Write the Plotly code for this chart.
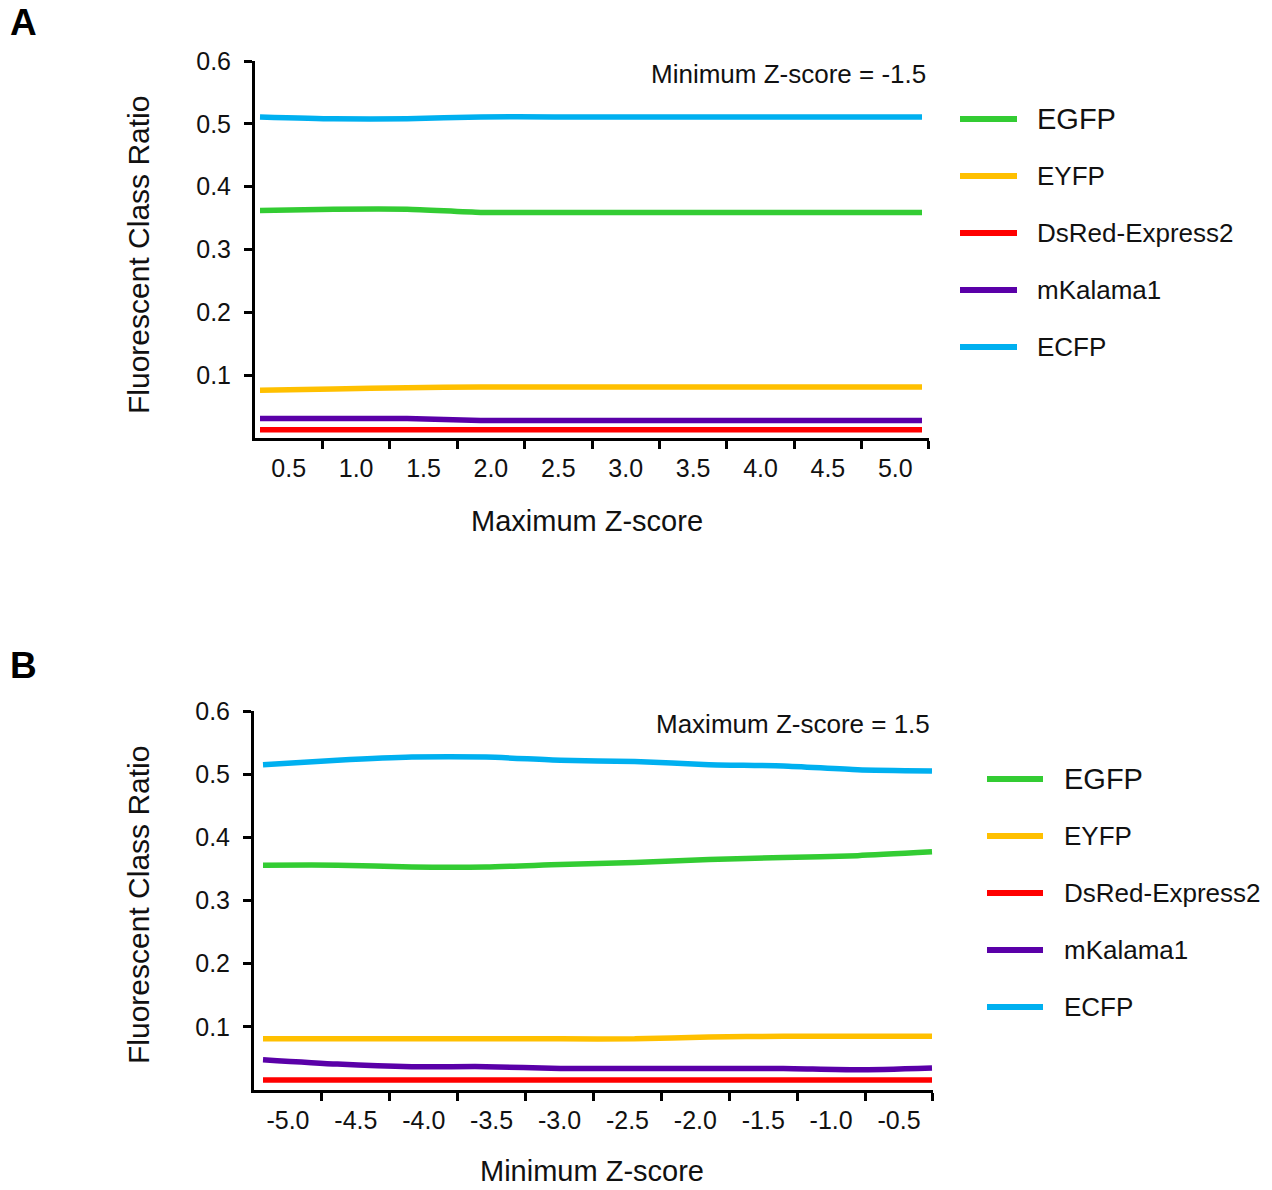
import plotly.graph_objects as go

W, H = 1272, 1190

# ---------------- data ----------------
proteins = ["EGFP", "EYFP", "DsRed-Express2", "mKalama1", "ECFP"]
colors = ["#33CC33", "#FFC000", "#FF0000", "#5A00A8", "#00B0F0"]

max_z = [0.5, 1.0, 1.5, 2.0, 2.5, 3.0, 3.5, 4.0, 4.5, 5.0]
max_z_labels = ["0.5", "1.0", "1.5", "2.0", "2.5", "3.0", "3.5", "4.0", "4.5", "5.0"]

min_z = [-5.0, -4.5, -4.0, -3.5, -3.0, -2.5, -2.0, -1.5, -1.0, -0.5]
min_z_labels = ["-5.0", "-4.5", "-4.0", "-3.5", "-3.0", "-2.5", "-2.0", "-1.5", "-1.0", "-0.5"]

y_ticks = [0.1, 0.2, 0.3, 0.4, 0.5, 0.6]

# Panel A (minimum Z-score = -1.5)
a_egfp = [0.362, 0.364, 0.364, 0.359, 0.359, 0.359, 0.359, 0.359, 0.359, 0.359]
a_eyfp = [0.076, 0.078, 0.080, 0.081, 0.081, 0.081, 0.081, 0.081, 0.081, 0.081]
a_dsred = [0.013, 0.013, 0.013, 0.013, 0.013, 0.013, 0.013, 0.013, 0.013, 0.013]
a_mkalama = [0.031, 0.031, 0.031, 0.028, 0.028, 0.028, 0.028, 0.028, 0.028, 0.028]
a_ecfp = [0.511, 0.508, 0.508, 0.511, 0.511, 0.511, 0.511, 0.511, 0.511, 0.511]

# Panel B (maximum Z-score = 1.5)
b_egfp = [0.356, 0.356, 0.353, 0.353, 0.357, 0.360, 0.365, 0.368, 0.371, 0.377]
b_eyfp = [0.081, 0.081, 0.081, 0.081, 0.081, 0.081, 0.084, 0.085, 0.085, 0.085]
b_dsred = [0.016, 0.016, 0.016, 0.016, 0.016, 0.016, 0.016, 0.016, 0.016, 0.016]
b_mkalama = [0.048, 0.041, 0.037, 0.037, 0.034, 0.034, 0.034, 0.034, 0.032, 0.035]
b_ecfp = [0.515, 0.522, 0.527, 0.527, 0.522, 0.520, 0.515, 0.513, 0.507, 0.505]

series_a = [a_egfp, a_eyfp, a_dsred, a_mkalama, a_ecfp]
series_b = [b_egfp, b_eyfp, b_dsred, b_mkalama, b_ecfp]

FONT = "Liberation Sans, Arial, Helvetica, sans-serif"


def px(xp):
    return xp / W


def py(yp):
    return 1 - yp / H


def x_axis_setup(xs, ax_left, ax_right, d_left, d_right):
    """range so that first/last data points land at d_left/d_right pixels"""
    scale = (d_right - d_left) / (xs[-1] - xs[0])
    x0 = xs[0] - (d_left - ax_left) / scale
    x1 = xs[-1] + (ax_right - d_right) / scale
    n = len(xs)
    cw = (x1 - x0) / n
    bounds = [x0 + cw * k for k in range(1, n)] + [x1 - cw * 1e-3]
    centers = [x0 + cw * (k + 0.5) for k in range(n)]
    return [x0, x1], bounds, centers


fig = go.Figure()

for name, col, ya, yb in zip(proteins, colors, series_a, series_b):
    fig.add_trace(go.Scatter(x=max_z, y=ya, mode="lines", name=name,
                             line=dict(color=col, width=5.5, shape="spline", smoothing=0.6),
                             xaxis="x", yaxis="y", showlegend=False))
    fig.add_trace(go.Scatter(x=min_z, y=yb, mode="lines", name=name,
                             line=dict(color=col, width=5.5, shape="spline", smoothing=0.6),
                             xaxis="x2", yaxis="y2", showlegend=False))

rngA, boundsA, centersA = x_axis_setup(max_z, 255, 929, 260, 922)
rngB, boundsB, centersB = x_axis_setup(min_z, 254, 933, 263, 932)

tickfont = dict(family=FONT, size=25, color="#111111")


def xaxis_dict(dom, rng, bounds, centers, labels, anchor):
    return dict(domain=dom, range=rng, anchor=anchor, showgrid=False, zeroline=False,
                automargin=False,
                showline=True, linecolor="black", linewidth=3,
                tickmode="array", tickvals=centers, ticktext=labels,
                ticks="outside", ticklen=5, tickwidth=3, tickcolor="rgba(0,0,0,0)",
                tickfont=tickfont, ticklabelstandoff=1,
                minor=dict(tickmode="array", tickvals=bounds, ticks="outside",
                           ticklen=8, tickwidth=3, tickcolor="black", showgrid=False))


def yaxis_dict(dom, anchor):
    return dict(domain=dom, range=[0, 0.6], anchor=anchor, showgrid=False, zeroline=False,
                automargin=False,
                showline=True, linecolor="black", linewidth=3,
                tickmode="array", tickvals=y_ticks, ticktext=[f"{v:.1f}" for v in y_ticks],
                ticks="outside", ticklen=8, tickwidth=3, tickcolor="black",
                tickfont=tickfont, ticklabelstandoff=8)


fig.update_layout(
    width=W, height=H,
    margin=dict(l=0, r=0, t=0, b=0, autoexpand=False),
    paper_bgcolor="white", plot_bgcolor="white",
    font=dict(family=FONT, color="#111111"),
    xaxis=xaxis_dict([px(255), px(929)], rngA, boundsA, centersA, max_z_labels, "y"),
    yaxis=yaxis_dict([py(438), py(61)], "x"),
    xaxis2=xaxis_dict([px(254), px(933)], rngB, boundsB, centersB, min_z_labels, "y2"),
    yaxis2=yaxis_dict([py(1090), py(711)], "x2"),
)

annotations = []
shapes = []

# panel letters
annotations.append(dict(text="<b>A</b>", x=px(8), y=py(22), xref="paper", yref="paper",
                        xanchor="left", yanchor="middle", showarrow=False,
                        font=dict(family=FONT, size=37, color="black")))
annotations.append(dict(text="<b>B</b>", x=px(8), y=py(665), xref="paper", yref="paper",
                        xanchor="left", yanchor="middle", showarrow=False,
                        font=dict(family=FONT, size=37, color="black")))

# axis titles
for xt, xc, yc in [("Maximum Z-score", 587, 521), ("Minimum Z-score", 592, 1171)]:
    annotations.append(dict(text=xt, x=px(xc), y=py(yc), xref="paper", yref="paper",
                            xanchor="center", yanchor="middle", showarrow=False,
                            font=dict(family=FONT, size=29, color="#111111")))
for yc in [255, 905]:
    annotations.append(dict(text="Fluorescent Class Ratio", x=px(138), y=py(yc),
                            xref="paper", yref="paper", textangle=-90,
                            xanchor="center", yanchor="middle", showarrow=False,
                            font=dict(family=FONT, size=30, color="#111111")))

# in-plot notes
annotations.append(dict(text="Minimum Z-score = -1.5", x=px(928), y=py(74), xref="paper",
                        yref="paper", xanchor="right", yanchor="middle", showarrow=False,
                        font=dict(family=FONT, size=26, color="#111111")))
annotations.append(dict(text="Maximum Z-score = 1.5", x=px(932), y=py(724), xref="paper",
                        yref="paper", xanchor="right", yanchor="middle", showarrow=False,
                        font=dict(family=FONT, size=26, color="#111111")))

# legends (manual, one per panel)
for (lx0, lx1, tx, ty0) in [(960, 1017, 1035, 119), (987, 1043, 1062, 779)]:
    for i, (name, col) in enumerate(zip(proteins, colors)):
        yy = ty0 + 57 * i
        shapes.append(dict(type="line", xref="paper", yref="paper",
                           x0=px(lx0), x1=px(lx1), y0=py(yy), y1=py(yy),
                           line=dict(color=col, width=6)))
        annotations.append(dict(text=name, x=px(tx), y=py(yy), xref="paper", yref="paper",
                                xanchor="left", yanchor="middle", showarrow=False,
                                font=dict(family=FONT, size=29 if i == 0 else 26,
                                          color="#111111")))

fig.update_layout(annotations=annotations, shapes=shapes)

fig.write_html("out.html")
